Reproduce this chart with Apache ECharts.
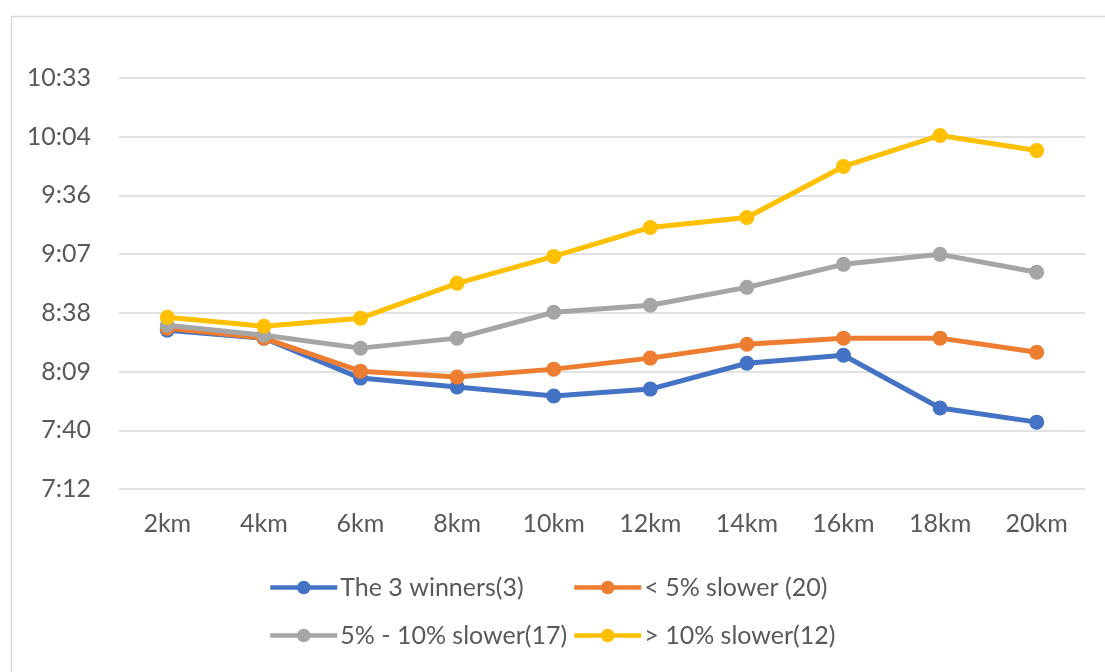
<!DOCTYPE html>
<html>
<head>
<meta charset="utf-8">
<script src="https://cdn.jsdelivr.net/npm/echarts@6/dist/echarts.min.js"></script>
<style>
html,body{margin:0;padding:0;background:#fff;}
#c{width:1105px;height:672px;}
</style>
</head>
<body>
<div id="c"></div>
<script>
// Split times in minutes per 2km
const categories = ['2km','4km','6km','8km','10km','12km','14km','16km','18km','20km'];
const seriesNames = ['The 3 winners(3)', '< 5% slower (20)', '5% - 10% slower(17)', '> 10% slower(12)'];
const winners  = [509.9, 506.0, 486.4, 482.0, 477.6, 481.0, 493.7, 497.6, 471.7, 464.8];
const under5   = [510.9, 506.0, 489.8, 486.9, 490.8, 496.2, 503.0, 506.0, 506.0, 499.1];
const from5to10= [512.3, 507.4, 501.1, 506.0, 518.7, 522.1, 530.9, 542.2, 547.1, 538.3];
const over10   = [516.2, 511.8, 515.8, 532.9, 546.1, 560.3, 565.2, 590.2, 605.4, 598.0];
const yMin = 432, yMax = 633.6, yStep = 28.8; // 7:12 .. 10:33 in minutes

const colors = ['#4472C4', '#ED7D31', '#A5A5A5', '#FFC000'];
const font = 'Lato, "Open Sans", sans-serif';
const txt = '#595959';

function fmt(v){
  const m = Math.floor(v + 1e-6);
  const h = Math.floor(m/60), mm = m % 60;
  return h + ':' + (mm < 10 ? '0' : '') + mm;
}

const chart = echarts.init(document.getElementById('c'), null, {renderer:'canvas'});
const allData = [winners, under5, from5to10, over10];
const legendPos = [[268,575],[572,575],[268,623],[572,623]];

chart.setOption({
  animation: false,
  backgroundColor: '#fff',
  color: colors,
  graphic: [{
    type: 'rect', left: 9, top: 14, z: -10,
    shape: {width: 1200, height: 800},
    style: {fill: 'none', stroke: '#d9d9d9', lineWidth: 1.5}
  }],
  grid: {left: 119, right: 20, top: 78, bottom: 183, containLabel: false},
  legend: seriesNames.map((n, i) => ({
    data: [n], left: legendPos[i][0], top: legendPos[i][1],
    itemWidth: 67, itemHeight: 17, itemGap: 0,
    lineStyle: {width: 4.5},
    textStyle: {fontFamily: font, fontSize: 25, color: txt, padding: [0,0,0,-2]},
    padding: 0
  })),
  xAxis: {
    type: 'category', data: categories, boundaryGap: true,
    axisLine: {show: false}, axisTick: {show: false},
    axisLabel: {fontFamily: font, fontSize: 25, color: txt, margin: 22}
  },
  yAxis: {
    type: 'value', min: yMin, max: yMax, interval: yStep,
    axisLine: {show: false}, axisTick: {show: false},
    splitLine: {lineStyle: {color: '#d9d9d9', width: 1.5}},
    axisLabel: {fontFamily: font, fontSize: 25, color: txt, margin: 28, formatter: fmt}
  },
  series: seriesNames.map((n, i) => ({
    name: n, type: 'line', data: allData[i],
    symbol: 'circle', symbolSize: 15,
    lineStyle: {width: 5, color: colors[i]},
    itemStyle: {color: colors[i]},
    z: 2 + i
  }))
});
</script>
</body>
</html>
